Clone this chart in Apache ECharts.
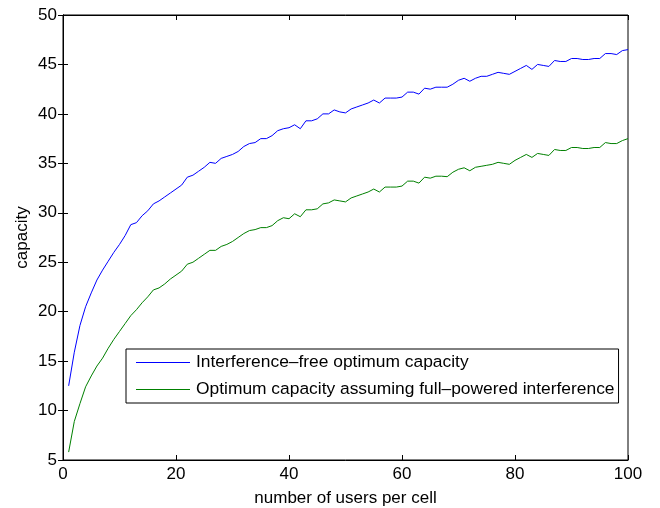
<!DOCTYPE html>
<html>
<head>
<meta charset="utf-8">
<script src="https://cdn.jsdelivr.net/npm/echarts@6/dist/echarts.min.js"></script>
<style>
  html, body { margin: 0; padding: 0; background: #fff; }
  #chart { width: 660px; height: 508px; }
</style>
</head>
<body>
<div id="chart"></div>
<script>
// number of users per cell: 1..100
var users = [];
for (var i = 1; i <= 100; i++) users.push(i);

var freeCapacity = [
  12.5, 15.9, 18.6, 20.5, 21.9, 23.2, 24.2, 25.1, 26.0, 26.8,
  27.7, 28.8, 29.0, 29.7, 30.2, 30.9, 31.2, 31.6, 32.0, 32.4,
  32.8, 33.6, 33.8, 34.2, 34.6, 35.1, 35.0, 35.5, 35.7, 35.9,
  36.2, 36.7, 37.0, 37.1, 37.5, 37.5, 37.8, 38.3, 38.5, 38.6,
  38.9, 38.5, 39.3, 39.3, 39.5, 40.0, 40.0, 40.4, 40.2, 40.1,
  40.5, 40.7, 40.9, 41.1, 41.4, 41.1, 41.6, 41.6, 41.6, 41.7,
  42.2, 42.2, 42.0, 42.6, 42.5, 42.7, 42.7, 42.7, 43.0, 43.4,
  43.6, 43.3, 43.6, 43.8, 43.8, 44.0, 44.2, 44.1, 44.0, 44.3,
  44.6, 44.9, 44.5, 45.0, 44.9, 44.8, 45.4, 45.3, 45.3, 45.6,
  45.6, 45.5, 45.5, 45.6, 45.6, 46.1, 46.1, 46.0, 46.4, 46.5
];

var fullPowerCapacity = [
  5.8, 8.9, 10.7, 12.4, 13.5, 14.5, 15.3, 16.3, 17.2, 18.0,
  18.8, 19.6, 20.2, 20.9, 21.5, 22.2, 22.4, 22.8, 23.3, 23.7,
  24.1, 24.8, 25.0, 25.4, 25.8, 26.2, 26.2, 26.6, 26.8, 27.1,
  27.5, 27.9, 28.2, 28.3, 28.5, 28.5, 28.7, 29.2, 29.5, 29.4,
  29.9, 29.6, 30.3, 30.3, 30.4, 30.9, 31.0, 31.3, 31.2, 31.1,
  31.5, 31.7, 31.9, 32.1, 32.4, 32.1, 32.6, 32.6, 32.6, 32.7,
  33.2, 33.2, 33.0, 33.6, 33.5, 33.7, 33.7, 33.65, 34.1, 34.4,
  34.55, 34.25, 34.6, 34.7, 34.8, 34.9, 35.1, 35.0, 34.9, 35.3,
  35.6, 35.9, 35.6, 36.0, 35.9, 35.8, 36.4, 36.3, 36.3, 36.6,
  36.6, 36.5, 36.5, 36.6, 36.6, 37.1, 37.0, 37.0, 37.3, 37.5
];

var seriesNames = [
  'Interference\u2013free optimum capacity',
  'Optimum capacity assuming full\u2013powered interference'
];

function pairs(xs, ys) {
  return xs.map(function (x, k) { return [x, ys[k]]; });
}

var font = 'Liberation Sans, Arial, Helvetica, sans-serif';
var fs = 17;
var tickStyle = { show: true, inside: true, length: 5, lineStyle: { color: '#000' } };

var chart = echarts.init(document.getElementById('chart'));
chart.setOption({
  animation: false,
  textStyle: { fontFamily: font },
  grid: {
    left: 63, right: 32, top: 15, bottom: 48,
    outerBoundsMode: 'none',
    show: true, borderColor: '#000', borderWidth: 1, backgroundColor: '#fff'
  },
  legend: {
    orient: 'vertical',
    left: 126, top: 349,
    padding: [5, 4, 5, 10],
    itemGap: 10,
    itemWidth: 54,
    itemHeight: 1,
    icon: 'rect',
    borderColor: '#000',
    borderWidth: 1,
    borderRadius: 0,
    backgroundColor: '#fff',
    textStyle: { fontSize: 17.4, color: '#000', fontFamily: font, padding: [0, 0, 0, 1] },
    data: seriesNames
  },
  xAxis: [{
    type: 'value', min: 0, max: 100, interval: 20,
    name: 'number of users per cell', nameLocation: 'middle', nameGap: 30,
    nameMoveOverlap: false,
    nameTextStyle: { fontSize: fs, color: '#000' },
    axisLine: { show: true, lineStyle: { color: '#000' } },
    axisTick: tickStyle,
    axisLabel: { fontSize: fs, color: '#000', margin: 6 },
    splitLine: { show: false }
  }, {
    type: 'value', min: 0, max: 100, interval: 20, position: 'top',
    axisLine: { show: true, lineStyle: { color: '#000' } },
    axisTick: tickStyle, axisLabel: { show: false }, splitLine: { show: false }
  }],
  yAxis: [{
    type: 'value', min: 5, max: 50, interval: 5,
    name: 'capacity', nameLocation: 'middle', nameGap: 32,
    nameMoveOverlap: false,
    nameTextStyle: { fontSize: fs, color: '#000' },
    axisLine: { show: true, lineStyle: { color: '#000' } },
    axisTick: tickStyle,
    axisLabel: { fontSize: fs, color: '#000', margin: 6 },
    splitLine: { show: false }
  }, {
    type: 'value', min: 5, max: 50, interval: 5, position: 'right',
    axisLine: { show: true, lineStyle: { color: '#000' } },
    axisTick: tickStyle, axisLabel: { show: false }, splitLine: { show: false }
  }],
  series: [{
    name: seriesNames[0], type: 'line', symbol: 'none',
    lineStyle: { color: '#0000ff', width: 1 }, itemStyle: { color: '#0000ff' },
    data: pairs(users, freeCapacity)
  }, {
    name: seriesNames[1], type: 'line', symbol: 'none',
    lineStyle: { color: '#008000', width: 1 }, itemStyle: { color: '#008000' },
    data: pairs(users, fullPowerCapacity)
  }]
});
</script>
</body>
</html>
